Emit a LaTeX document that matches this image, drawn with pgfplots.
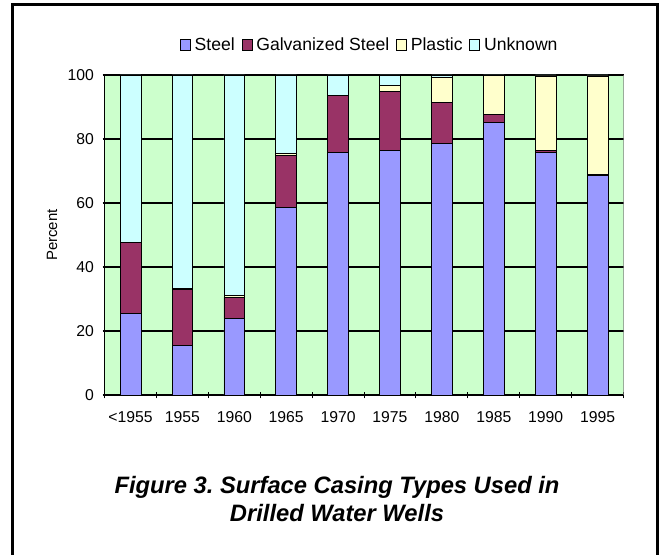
\documentclass[border=0pt]{standalone}
\usepackage{pgfplots}
\pgfplotsset{compat=1.18}
\usepackage{fontspec}
\setmainfont{Liberation Sans}
\frenchspacing
\definecolor{steel}{RGB}{153,153,255}
\definecolor{galv}{RGB}{153,51,102}
\definecolor{plastic}{RGB}{255,255,204}
\definecolor{unknown}{RGB}{204,255,255}
\definecolor{plotbg}{RGB}{204,255,204}
\begin{document}
\begin{tikzpicture}
\useasboundingbox (0,0) rectangle (495pt,416.25pt);
\draw[line width=2.25pt] (9pt,-5pt) -- (9pt,412.5pt) -- (492.75pt,412.5pt) -- (492.75pt,-5pt);
\begin{axis}[
  at={(78.4pt,120pt)}, anchor=south west,
  scale only axis, width=389.25pt, height=240pt,
  ybar stacked, bar width=0.4,
  xmin=-0.5, xmax=9.5, ymin=0, ymax=100,
  xtick={0,...,9},
  xticklabels={{<1955},1955,1960,1965,1970,1975,1980,1985,1990,1995},
  minor xtick={-0.5,0.5,...,9.5},
  major x tick style={draw=none},
  minor tick length=5pt,
  ytick={0,20,...,100},
  major tick length=3pt,
  tick align=outside,
  tick style={black, line width=0.8pt},
  ymajorgrids, grid style={black, line width=0.9pt},
  axis lines=left, axis line style={-, black, line width=0.9pt},
  axis background/.style={fill=plotbg},
  /pgf/number format/assume math mode=true,
  ticklabel style={font=\fontsize{11.8}{14}\selectfont},
  xticklabel style={yshift=-7pt},
  yticklabel style={xshift=-3pt},
  ylabel={Percent},
  ylabel style={at={(axis description cs:-0.1012,0.5)}, anchor=center, font=\fontsize{11.2}{13}\selectfont},
  legend columns=4,
  legend style={draw=none, fill=none, at={(axis description cs:0.5116,1.094)}, anchor=center,
    font=\fontsize{13.2}{15}\selectfont,
    /tikz/every odd column/.append style={column sep=1pt},
    /tikz/every even column/.append style={column sep=3pt}},
  legend image code/.code={\draw[#1, draw=black, line width=0.6pt] (0pt,-3.8pt) rectangle (7.5pt,3.8pt);},
  every axis plot/.append style={draw=black, line width=0.5pt},
]
\addplot[fill=steel] coordinates {(0,25.6) (1,15.4) (2,23.9) (3,58.5) (4,75.9) (5,76.5) (6,78.6) (7,85.2) (8,75.8) (9,68.7)};
\addplot[fill=galv] coordinates {(0,22.2) (1,17.7) (2,6.6) (3,16.3) (4,17.6) (5,18.4) (6,12.8) (7,2.4) (8,0.6) (9,0.1)};
\addplot[fill=plastic] coordinates {(0,0) (1,0.3) (2,0.5) (3,0.6) (4,0) (5,1.8) (6,7.9) (7,12.2) (8,23.3) (9,30.9)};
\addplot[fill=unknown] coordinates {(0,52.2) (1,66.6) (2,69.0) (3,24.6) (4,6.5) (5,3.3) (6,0.7) (7,0.2) (8,0.3) (9,0.3)};
\legend{Steel, Galvanized Steel, Plastic, Unknown}
\draw[gray, line width=0.9pt] (rel axis cs:1,0) -- (rel axis cs:1,1);
\end{axis}
\node[anchor=base, font=\fontsize{17.8}{20}\selectfont\bfseries\itshape] at (252.75pt,45.75pt) {Figure 3. Surface Casing Types Used in};
\node[anchor=base, font=\fontsize{17.8}{20}\selectfont\bfseries\itshape] at (252.75pt,24.75pt) {Drilled Water Wells};
\end{tikzpicture}
\end{document}
